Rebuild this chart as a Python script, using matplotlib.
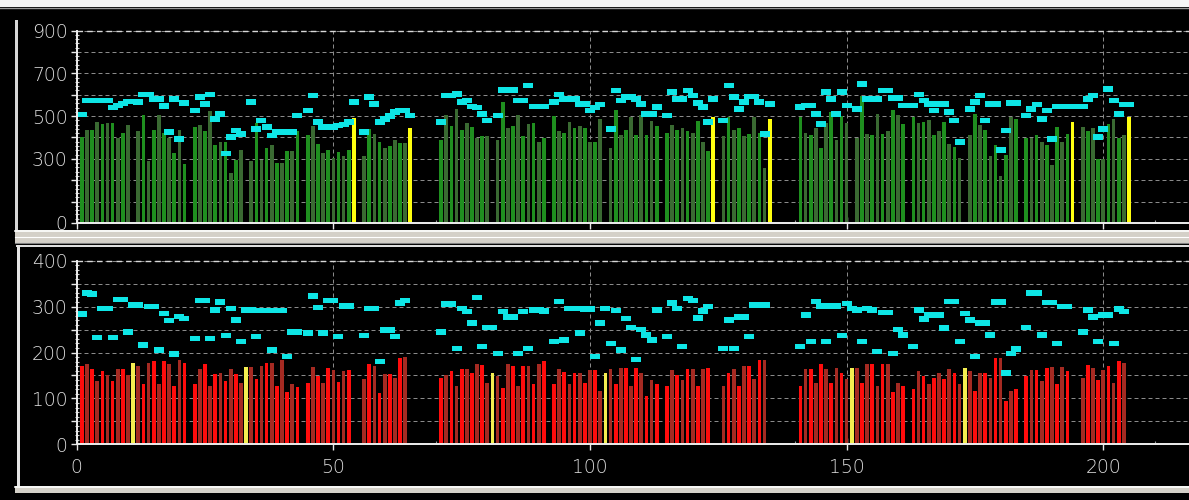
import numpy as np
import matplotlib
matplotlib.use("Agg")
import matplotlib.pyplot as plt
from matplotlib.patches import Rectangle
from matplotlib.lines import Line2D

# ---------------------------------------------------------------- data
# Three recording blocks; slot s of block k sits at x = offset[k] + s
BLOCK_OFFSETS = [0, 70, 140]

TOP_SLOTS = [1, 2, 3, 4, 5, 6, 7, 8, 9, 10,
             12, 13, 14, 15, 16, 17, 18, 19, 20, 21,
             23, 24, 25, 26, 27, 28, 29, 30, 31, 32,
             34, 35, 36, 37, 38, 39, 40, 41, 42, 43,
             45, 46, 47, 48, 49, 50, 51, 52, 53, 54,
             56, 57, 58, 59, 60, 61, 62, 63, 64, 65]
TOP_YELLOW_SLOTS = [54, 65]

BOTTOM_SLOTS = [1, 2, 3, 4, 5, 6, 7, 8, 9, 10, 11, 12, 13, 14, 15, 16, 17, 18, 19, 20, 21,
                23, 24, 25, 26, 27, 28, 29, 30, 31, 32, 33, 34, 35, 36, 37, 38, 39, 40, 41, 42, 43,
                45, 46, 47, 48, 49, 50, 51, 52, 53,
                56, 57, 58, 59, 60, 61, 62, 63, 64]
BOTTOM_YELLOW_SLOTS = [11, 33]

top_bars_1 = [402, 436, 436, 473, 461, 467, 467, 399, 420, 458,
              428, 503, 288, 436, 503, 420, 399, 327, 433, 274,
              448, 458, 430, 522, 367, 380, 381, 234, 296, 343,
              288, 467, 296, 350, 367, 280, 280, 335, 335, 430,
              410, 452, 371, 327, 343, 304, 332, 311, 343, 490,
              311, 441, 417, 381, 350, 358, 389, 374, 374, 444]
top_bars_2 = [389, 503, 452, 534, 433, 467, 448, 399, 405, 405,
              389, 565, 444, 452, 503, 405, 464, 467, 381, 397,
              498, 428, 420, 472, 444, 452, 444, 381, 378, 487,
              350, 529, 413, 436, 495, 413, 506, 413, 475, 452,
              420, 459, 436, 444, 428, 423, 475, 381, 335, 495,
              405, 495, 436, 444, 405, 417, 495, 420, 257, 487]
top_bars_3 = [495, 420, 413, 444, 350, 467, 519, 389, 498, 467,
              397, 592, 417, 410, 511, 417, 428, 526, 503, 464,
              495, 467, 472, 483, 410, 428, 472, 371, 355, 304,
              410, 511, 456, 433, 311, 363, 218, 316, 495, 487,
              397, 397, 410, 378, 366, 272, 448, 381, 417, 472,
              448, 428, 444, 300, 300, 464, 487, 397, 410, 495]

top_marks_1 = [507, 573, 573, 573, 573, 573, 540, 550, 558, 568,
               565, 601, 601, 580, 580, 548, 425, 580, 394, 560,
               526, 590, 557, 600, 487, 510, 324, 402, 433, 417,
               565, 440, 480, 448, 410, 425, 425, 425, 425, 503,
               526, 596, 472, 448, 448, 448, 455, 460, 472, 565,
               425, 590, 557, 472, 487, 500, 518, 526, 526, 503]
top_marks_2 = [472, 596, 596, 604, 565, 573, 545, 539, 510, 480,
               503, 623, 623, 623, 573, 573, 643, 545, 545, 545,
               565, 600, 580, 580, 580, 557, 557, 526, 540, 554,
               440, 620, 573, 590, 590, 580, 557, 510, 510, 542,
               503, 612, 580, 580, 620, 596, 560, 542, 472, 580,
               480, 643, 590, 534, 565, 592, 592, 565, 417, 557]
top_marks_3 = [542, 550, 550, 510, 464, 612, 580, 510, 612, 550,
               534, 650, 580, 580, 580, 620, 620, 584, 584, 550,
               550, 600, 573, 557, 526, 557, 557, 518, 480, 378,
               534, 565, 596, 480, 557, 557, 340, 433, 560, 560,
               503, 534, 554, 487, 526, 394, 545, 545, 545, 545,
               545, 580, 596, 402, 440, 627, 573, 510, 554, 554]

bottom_bars_1 = [171, 175, 163, 138, 160, 151, 138, 163, 163, 151, 178, 171, 131, 178, 182, 131, 182, 175, 127, 184, 178,
                 131, 163, 175, 127, 153, 156, 138, 163, 153, 134, 168, 168, 142, 171, 178, 178, 127, 183, 113, 131, 124,
                 134, 168, 149, 134, 166, 162, 136, 160, 162,
                 142, 175, 171, 111, 153, 153, 145, 187, 191]
bottom_bars_2 = [145, 151, 160, 127, 163, 163, 155, 176, 173, 134, 155, 149, 123, 175, 171, 126, 171, 171, 131, 176, 182,
                 131, 165, 157, 131, 155, 155, 134, 162, 162, 116, 155, 163, 131, 167, 167, 127, 167, 156, 105, 139, 131,
                 127, 162, 151, 139, 163, 163, 126, 163, 167,
                 127, 156, 163, 127, 171, 171, 142, 184, 184]
bottom_bars_3 = [127, 163, 163, 133, 174, 163, 134, 167, 156, 142, 167, 167, 134, 174, 174, 126, 174, 174, 113, 134, 127,
                 120, 160, 149, 131, 145, 155, 142, 163, 155, 131, 167, 160, 116, 155, 155, 145, 189, 187, 95, 116, 120,
                 149, 162, 162, 138, 167, 169, 131, 169, 160,
                 145, 173, 167, 139, 162, 171, 133, 182, 178]

bottom_marks_1 = [284, 330, 327, 233, 296, 296, 233, 316, 316, 245, 303, 303, 216, 300, 300, 205, 285, 270, 197, 278, 274,
                  230, 313, 313, 230, 293, 310, 237, 296, 271, 224, 293, 293, 235, 291, 291, 205, 291, 291, 191, 245, 245,
                  242, 323, 298, 242, 313, 313, 235, 301, 301,
                  237, 296, 296, 180, 249, 249, 235, 308, 313]
bottom_marks_2 = [245, 306, 306, 209, 296, 289, 264, 320, 213, 255, 255, 198, 289, 277, 277, 198, 289, 209, 293, 293, 290,
                  224, 311, 227, 296, 296, 242, 295, 295, 191, 264, 296, 220, 291, 205, 274, 255, 185, 250, 238, 227, 293,
                  235, 308, 296, 213, 318, 313, 275, 290, 300,
                  209, 271, 209, 277, 277, 235, 303, 303, 303]
bottom_marks_3 = [213, 282, 224, 311, 301, 224, 301, 301, 237, 307, 296, 293, 224, 296, 293, 202, 287, 287, 198, 250, 238,
                  213, 293, 273, 282, 282, 282, 253, 311, 311, 224, 285, 271, 191, 264, 264, 238, 310, 310, 155, 198, 208,
                  255, 330, 330, 238, 309, 309, 220, 300, 300,
                  245, 293, 277, 224, 282, 282, 220, 295, 289]

X_TICKS = [0, 50, 100, 150, 200]
TOP_Y_TICKS = [0, 100, 200, 300, 400, 500, 600, 700, 800, 900]
TOP_Y_LABELS = ["0", "", "", "300", "", "500", "", "700", "", "900"]
BOTTOM_Y_TICKS = [0, 50, 100, 150, 200, 250, 300, 350, 400]
BOTTOM_Y_LABELS = ["0", "", "100", "", "200", "", "300", "", "400"]

# ---------------------------------------------------------------- style
W, H = 1189, 500
CYAN = "#0ee6e6"
TEXT = "#dedede"
GRID = "#8a8a8a"
FACE = "#d4d0c8"
plt.rcParams["font.family"] = ["DejaVu Sans"]

fig = plt.figure(figsize=(W / 100, H / 100), dpi=100, facecolor="black")


def px_axes(left, top, right, bottom):
    return fig.add_axes([left / W, 1 - bottom / H, (right - left) / W, (bottom - top) / H])


X0_PX, X_SCALE = 76.7, 5.133          # pixel of x = 0 and pixels per unit
RIGHT_PX = W + 20
XMAX = (RIGHT_PX - X0_PX) / X_SCALE

ax_top = px_axes(X0_PX, 30.5, RIGHT_PX, 223.0)
ax_bot = px_axes(X0_PX, 260.7, RIGHT_PX, 444.3)


def draw_panel(ax, slots, yellow_slots, bars, marks, bright, dark, yellow, mark_h):
    for off, vals, mk in zip(BLOCK_OFFSETS, bars, marks):
        x = np.array([off + s for s in slots])
        colors = [yellow if s in yellow_slots else (bright if s % 2 else dark) for s in slots]
        ax.bar(x, vals, width=0.72, color=colors, linewidth=0, zorder=2)
        ax.bar(x, mark_h, bottom=np.asarray(mk) - mark_h / 2, width=1.95,
               color=CYAN, linewidth=0, zorder=3)


draw_panel(ax_top, TOP_SLOTS, TOP_YELLOW_SLOTS,
           [top_bars_1, top_bars_2, top_bars_3],
           [top_marks_1, top_marks_2, top_marks_3],
           "#1f8f1f", "#3a6a32", "#ffff10", 26)
draw_panel(ax_bot, BOTTOM_SLOTS, BOTTOM_YELLOW_SLOTS,
           [bottom_bars_1, bottom_bars_2, bottom_bars_3],
           [bottom_marks_1, bottom_marks_2, bottom_marks_3],
           "#ff0c0c", "#a52a22", "#f4ee50", 12)


def style_axes(ax, ymax, yticks, ylabels, minor_step, show_xlabels):
    ax.set_facecolor("black")
    ax.set_xlim(0, XMAX)
    ax.set_ylim(0, ymax)
    for side in ("top", "right"):
        ax.spines[side].set_visible(False)
    for side in ("left", "bottom"):
        ax.spines[side].set_color("#eeeeee")
        ax.spines[side].set_linewidth(1.4)
        ax.spines[side].set_zorder(5)
    ax.set_xticks(X_TICKS)
    ax.set_yticks(yticks)
    ax.set_yticklabels(ylabels)
    ax.set_yticks(np.arange(0, ymax + 0.1, minor_step), minor=True)
    ax.set_xticks(np.arange(0, XMAX, 10), minor=True)
    ax.tick_params(axis="y", which="major", direction="out", length=4.5, width=1,
                   color="#e8e8e8", labelcolor=TEXT, labelsize=13.5, pad=2)
    ax.tick_params(axis="y", which="minor", direction="inout", length=3, width=0.8,
                   color="#cfcfcf")
    ax.tick_params(axis="x", which="major", direction="inout", length=8, width=1,
                   color="#e8e8e8", labelcolor=TEXT, labelsize=13.5, pad=6,
                   labelbottom=show_xlabels)
    ax.tick_params(axis="x", which="minor", direction="in", length=2, width=0.8,
                   color="#9a9a9a")
    for t in ax.get_xticklabels() + ax.get_yticklabels():
        t.set_fontweight("light")
    ax.grid(True, which="major", color=GRID, linestyle=(0, (4, 3)), linewidth=0.72, zorder=1)
    ax.set_axisbelow(True)
    ax.axhline(ymax, color="#d8d8d8", linestyle=(0, (4, 3)), linewidth=1.0,
               clip_on=False, zorder=4)


style_axes(ax_top, 900, TOP_Y_TICKS, TOP_Y_LABELS, 20, False)
style_axes(ax_bot, 400, BOTTOM_Y_TICKS, BOTTOM_Y_LABELS, 10, True)


# ---------------------------------------------------------------- window frame
def rect_px(x0, y0, x1, y1, color):
    fig.add_artist(Rectangle((x0 / W, 1 - y1 / H), (x1 - x0) / W, (y1 - y0) / H,
                             transform=fig.transFigure, facecolor=color,
                             edgecolor="none", zorder=0))


def line_px(x0, y0, x1, y1, color, lw=1.0):
    fig.add_artist(Line2D([x0 / W, x1 / W], [1 - y0 / H, 1 - y1 / H],
                          transform=fig.transFigure, color=color, linewidth=lw, zorder=0))


rect_px(0, 0, W, 7, "#f6f6f6")
line_px(0, 7.5, W, 7.5, "#9a9a9a")
# top panel left edge
rect_px(15, 20, 17.5, 231, "#d8d8d8")
# separator between panels
rect_px(15, 230, W, 243, FACE)
line_px(15, 230.5, W, 230.5, "#ffffff", 1.2)
line_px(15, 236.5, W, 236.5, "#ffffff", 0.8)
line_px(15, 242.5, W, 242.5, "#808080", 0.8)
# bottom panel frame
rect_px(17, 245, 19.5, 487, "#e6e6e6")
line_px(17, 245.5, W, 245.5, "#e6e6e6", 1.4)
rect_px(15, 486, W, 493, FACE)
line_px(15, 486.5, W, 486.5, "#ffffff", 1.2)

fig.savefig("out.png", dpi=100, facecolor="black")
